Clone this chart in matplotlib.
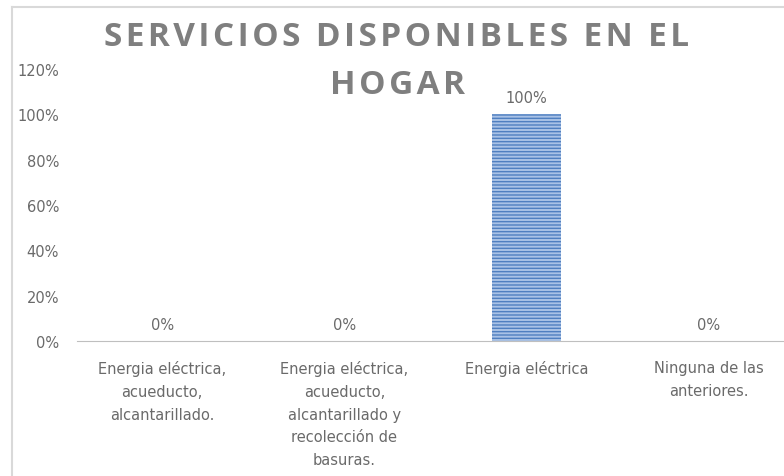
import matplotlib
matplotlib.use("Agg")
import matplotlib.pyplot as plt
from matplotlib.ticker import PercentFormatter
from matplotlib.lines import Line2D

categories = [
    "Energia eléctrica,\nacueducto,\nalcantarillado.",
    "Energia eléctrica,\nacueducto,\nalcantarillado y\nrecolección de\nbasuras.",
    "Energia eléctrica",
    "Ninguna de las\nanteriores.",
]
values = [0, 0, 100, 0]
labels = ["0%", "0%", "100%", "0%"]
title_lines = ["SERVICIOS DISPONIBLES EN EL", "HOGAR"]

gray = "#7f7f7f"
txt = "#6a6a6a"
font = ["Liberation Sans Narrow", "DejaVu Sans"]

fig = plt.figure(figsize=(7.84, 4.77), dpi=100)
ax = fig.add_axes([77 / 784, 1 - 342 / 477, 1 - 77 / 784, (342 - 70) / 477])

x = range(len(categories))
ax.bar(x, values, width=0.38, color="#a9c2e6", edgecolor="#4f7fc0",
       hatch="-----", linewidth=0)
for i, (v, lab) in enumerate(zip(values, labels)):
    ax.text(i, v + 4, lab, ha="center", va="bottom", fontsize=10.5,
            color=txt, family=font)

ax.set_ylim(0, 120)
ax.set_xlim(-(162 - 77) / 182, 3 + (784 - 709) / 182)
ax.set_yticks(range(0, 121, 20))
ax.yaxis.set_major_formatter(PercentFormatter(decimals=0))
ax.set_xticks(list(x))
ax.set_xticklabels(categories, fontsize=10.5, color=txt, family=font,
                   linespacing=1.64)
for lab in ax.get_yticklabels():
    lab.set_family(font)
ax.tick_params(axis="y", length=0, pad=13, labelsize=10.5, labelcolor=txt)
ax.tick_params(axis="x", length=0, pad=14)
for s in ["top", "right", "left"]:
    ax.spines[s].set_visible(False)
ax.spines["bottom"].set_color("#bfbfbf")

# title letters spaced out with hair spaces
for line, ypx in zip(title_lines, [38, 85]):
    fig.text(397 / 784, 1 - ypx / 477, "\u200a".join(line),
             ha="center", va="center", fontsize=24, fontweight="bold",
             color=gray, family=["Open Sans", "DejaVu Sans"])

# outer chart frame (top and left edges)
fig.add_artist(Line2D([12 / 784, 1], [1 - 8 / 477] * 2, color="#d9d9d9", lw=1.5,
                      transform=fig.transFigure))
fig.add_artist(Line2D([12 / 784] * 2, [0, 1 - 8 / 477], color="#d9d9d9", lw=1.5,
                      transform=fig.transFigure))

fig.savefig("out.png", dpi=100)
